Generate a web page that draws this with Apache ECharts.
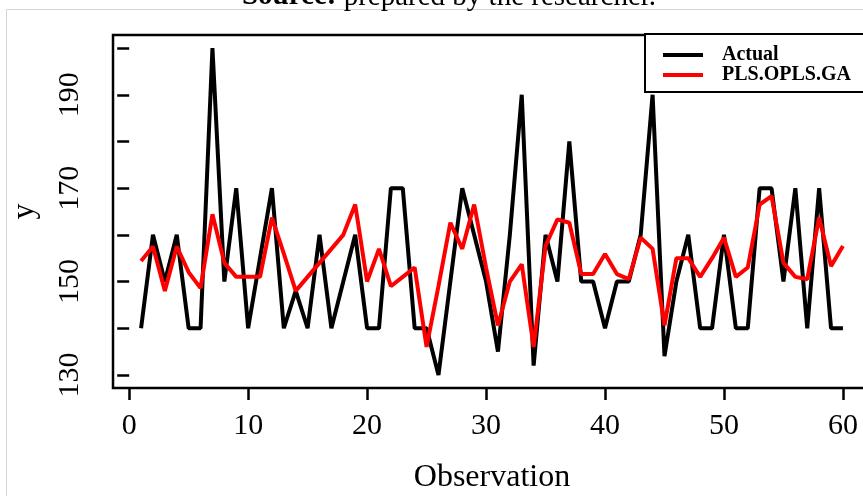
<!DOCTYPE html>
<html>
<head>
<meta charset="utf-8">
<script src="https://cdn.jsdelivr.net/npm/echarts@6/dist/echarts.min.js"></script>
<style>
html,body{margin:0;padding:0;background:#fff;}
#chart{width:863px;height:496px;}
</style>
</head>
<body>
<div id="chart"></div>
<script>
const observation = [1,2,3,4,5,6,7,8,9,10,11,12,13,14,15,16,17,18,19,20,21,22,23,24,25,26,27,28,29,30,31,32,33,34,35,36,37,38,39,40,41,42,43,44,45,46,47,48,49,50,51,52,53,54,55,56,57,58,59,60];
const actual = [140,160,150,160,140,140,200,150,170,140,155,170,140,148,140,160,140,150,160,140,140,170,170,140,140,130,150,170,160,150,135,160,190,132,160,150,180,150,150,140,150,150,160,190,134,150,160,140,140,160,140,140,170,170,150,170,140,170,140,140];
const predicted = [154.4,157.5,148,157.5,152,148.6,164.4,154,151,151,151,163.7,156,148,151,154,157,160,166.5,150,157,149,151,153,136,149,162.6,157,166.5,153,140.6,150,153.7,136,157.6,163.3,162.6,151.6,151.6,155.9,151.6,150.5,159.4,157,140.6,155,155,151,155,159.4,151,153,166.5,168.3,154,151,150.5,163.7,153.3,157.6];
const xTicks = [0,10,20,30,40,50,60];
const yTicks = [130,140,150,160,170,180,190,200];
const yLabels = [130,150,170,190];
const seriesNames = ['Actual','PLS.OPLS.GA'];
const sourceBold = 'Source:';
const sourceText = ' prepared by the researcher.';

const FONT = 'Liberation Serif';
const chart = echarts.init(document.getElementById('chart'), null, {renderer:'canvas'});
const pair = (xs, ys) => xs.map((x, i) => [x, ys[i]]);

chart.setOption({
  animation: false,
  backgroundColor: '#fff',
  grid: {left:113, top:35, width:758, height:353, show:true, borderColor:'#000', borderWidth:2.5, backgroundColor:'transparent', outerBoundsMode:'none', containLabel:false},
  legend: {
    orient:'vertical', left:645, top:34, z:10,
    backgroundColor:'transparent', borderWidth:0,
    padding:[11,0,10,18], itemGap:0, itemWidth:40, itemHeight:4, icon:'rect',
    textStyle:{fontFamily:FONT, fontWeight:'bold', fontSize:20, color:'#000', lineHeight:19, padding:[0,0,0,14]},
    data: seriesNames
  },
  xAxis: {
    type:'value', min:-1.36, max:62.36,
    name:'Observation', nameLocation:'middle', nameGap:74,
    nameTextStyle:{fontFamily:FONT, fontSize:32, color:'#000'},
    axisLine:{show:false},
    axisTick:{show:true, length:12, lineStyle:{color:'#000', width:2.5}, customValues:xTicks},
    axisLabel:{fontFamily:FONT, fontSize:30, color:'#000', margin:23, customValues:xTicks},
    splitLine:{show:false}
  },
  yAxis: {
    type:'value', min:127.2, max:202.8,
    name:'y', nameLocation:'middle', nameGap:72, nameRotate:90,
    nameTextStyle:{fontFamily:FONT, fontSize:32, color:'#000'},
    axisLine:{show:false},
    axisTick:{show:true, length:12, lineStyle:{color:'#000', width:2.5}, customValues:yTicks},
    axisLabel:{fontFamily:FONT, fontSize:30, color:'#000', margin:28, rotate:90, customValues:yLabels},
    splitLine:{show:false}
  },
  graphic: [
    {type:'rect', silent:true, z:-1, shape:{x:6.5, y:9.5, width:900, height:520}, style:{fill:'none', stroke:'#d4d4d4', lineWidth:1}},
    {type:'rect', silent:true, z:9, shape:{x:645, y:34, width:260, height:58}, style:{fill:'#fff', stroke:'#000', lineWidth:2}},
    {type:'text', x:449, y:-3, silent:true, style:{
      text:'{b|' + sourceBold + '}{r|' + sourceText + '}',
      align:'center', verticalAlign:'middle',
      rich:{
        b:{fontFamily:FONT, fontSize:29, fontWeight:'bold', fill:'#000', lineHeight:29},
        r:{fontFamily:FONT, fontSize:29, fill:'#000', lineHeight:29}
      }
    }}
  ],
  series: [
    {name:seriesNames[0], type:'line', symbol:'none', data:pair(observation, actual), lineStyle:{color:'#000', width:4}, itemStyle:{color:'#000'}, z:2},
    {name:seriesNames[1], type:'line', symbol:'none', data:pair(observation, predicted), lineStyle:{color:'#ff0000', width:4}, itemStyle:{color:'#ff0000'}, z:3}
  ]
});
</script>
</body>
</html>
